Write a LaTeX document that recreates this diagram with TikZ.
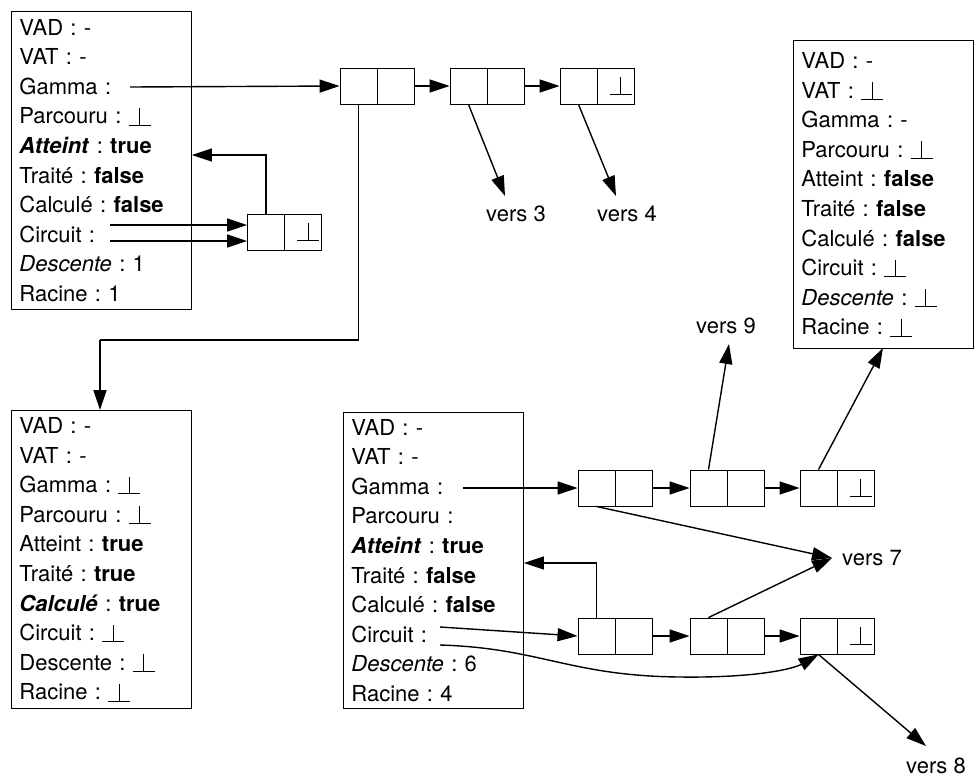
\documentclass[tikz,border=0pt]{standalone}
\usepackage{fontspec}
\setmainfont{TeX Gyre Heros}
\usetikzlibrary{arrows.meta}
\frenchspacing
\tikzset{
  rec/.style={draw, line width=0.9pt, anchor=north west, align=left, inner xsep=8pt, inner ysep=0pt,
    text width=164pt, minimum height=#1, font=\frenchspacing\fontsize{22}{29.6}\selectfont},
  cellbox/.style={draw, line width=0.9pt, minimum width=37pt, minimum height=36pt, inner sep=0pt,
    font=\fontsize{22}{26}\selectfont},
  arr/.style={line width=1.4pt, -{Triangle[length=20pt,width=13pt]}},
  ln/.style={line width=1.4pt},
  lbl/.style={font=\fontsize{22}{26}\selectfont, inner sep=1pt},
}
\newcommand{\bt}{\rlap{\rule[-1.5pt]{22pt}{0.9pt}}\hspace{10.55pt}\rule[-1.5pt]{0.9pt}{17.5pt}\hspace{10.55pt}}
\begin{document}
\begin{tikzpicture}[x=1pt,y=-1pt]
\useasboundingbox (0,0) rectangle (975,780);
% boxes
\node[rec=298pt] (b1) at (11,11) {VAD : -\\VAT : -\\Gamma :\\Parcouru : \bt\\\textbf{\textit{Atteint}} : \textbf{true}\\Traité : \textbf{false}\\Calculé : \textbf{false}\\Circuit :\\\textit{Descente} : 1\\Racine : 1};
\node[rec=298pt] (b2) at (11,410) {VAD : -\\VAT : -\\Gamma : \bt\\Parcouru : \bt\\Atteint : \textbf{true}\\Traité : \textbf{true}\\\textbf{\textit{Calculé}} : \textbf{true}\\Circuit : \bt\\Descente : \bt\\Racine : \bt};
\node[rec=296pt] (b3) at (343,412) {VAD : -\\VAT : -\\Gamma :\\Parcouru :\\\textbf{\textit{Atteint}} : \textbf{true}\\Traité : \textbf{false}\\Calculé : \textbf{false}\\Circuit :\\\textit{Descente} : 6\\Racine : 4};
\node[rec=308pt] (b4) at (793,40) {VAD : -\\VAT : \bt\\Gamma : -\\Parcouru : \bt\\Atteint : \textbf{false}\\Traité : \textbf{false}\\Calculé : \textbf{false}\\Circuit : \bt\\\textit{Descente} : \bt\\Racine : \bt};
% top chain
\node[cellbox] (t1a) at (358.5,86) {};
\node[cellbox] (t1b) at (395.5,86) {};
\node[cellbox] (t2a) at (468.5,86) {};
\node[cellbox] (t2b) at (505.5,86) {};
\node[cellbox] (t3a) at (578.5,86) {};
\node[cellbox] (t3b) at (615.5,86) {\bt};
% circuit cell box1
\node[cellbox] (c1a) at (266,232) {};
\node[cellbox] (c1b) at (303,232) {\bt};
% lower chains
\node[cellbox] (g1a) at (596.5,488) {};
\node[cellbox] (g1b) at (633.5,488) {};
\node[cellbox] (g2a) at (708.5,488) {};
\node[cellbox] (g2b) at (745.5,488) {};
\node[cellbox] (g3a) at (818.5,488) {};
\node[cellbox] (g3b) at (855.5,488) {\bt};
\node[cellbox] (k1a) at (596.5,636) {};
\node[cellbox] (k1b) at (633.5,636) {};
\node[cellbox] (k2a) at (708.5,636) {};
\node[cellbox] (k2b) at (745.5,636) {};
\node[cellbox] (k3a) at (818.5,636) {};
\node[cellbox] (k3b) at (855.5,636) {\bt};
% labels
\node[lbl] (v3) at (516,214) {vers 3};
\node[lbl] (v4) at (627,214) {vers 4};
\node[lbl] (v9) at (726,326) {vers 9};
\node[lbl] (v7) at (872,558) {vers 7};
\node[lbl] (v8) at (936,766) {vers 8};
% start coordinates
\coordinate (g1s) at (130,87);
\coordinate (ci1) at (110,225);
\coordinate (ci2) at (110,241);
\coordinate (g3s) at (463,488);
\coordinate (ci3) at (440,627);
\coordinate (ci4) at (440,645);
\coordinate (v7t) at (832,558);
% top connectors
\draw[arr] (g1s) -- (t1a.west);
\draw[arr] (t1b.east) -- (t2a.west);
\draw[arr] (t2b.east) -- (t3a.west);
\draw[ln] (t1a.south) |- (100,340) coordinate (m1);
\draw[arr] (m1) -- (b2.north west -| m1);
\draw[arr] (t2a.south) -- (505,196);
\draw[arr] (t3a.south) -- (616,196);
\draw[arr] (ci1) -- (ci1 -| c1a.west);
\draw[arr] (ci2) -- (ci2 -| c1a.west);
\draw[arr] (c1a.north) |- (b1.east |- 0,155);
% lower connectors
\draw[arr] (g3s) -- (g1a.west);
\draw[arr] (g1b.east) -- (g2a.west);
\draw[arr] (g2b.east) -- (g3a.west);
\draw[arr] (k1b.east) -- (k2a.west);
\draw[arr] (k2b.east) -- (k3a.west);
\draw[arr] (ci3) -- (k1a.west);
\draw[arr] (k1a.north) |- (b3.east |- 0,563);
\draw[arr] (g1a.south) -- (v7t);
\draw[arr] (k2a.north) -- (v7t);
\draw[arr] (g2a.north) -- (729,344);
\draw[arr] (g3a.north) -- (883,348);
\draw[arr] (k3a.south) -- (926,746);
\draw[arr] (ci4) .. controls (540,648) and (570,676) .. (680,677) .. controls (760,678) and (795,668) .. (k3a.south);
\end{tikzpicture}
\end{document}
